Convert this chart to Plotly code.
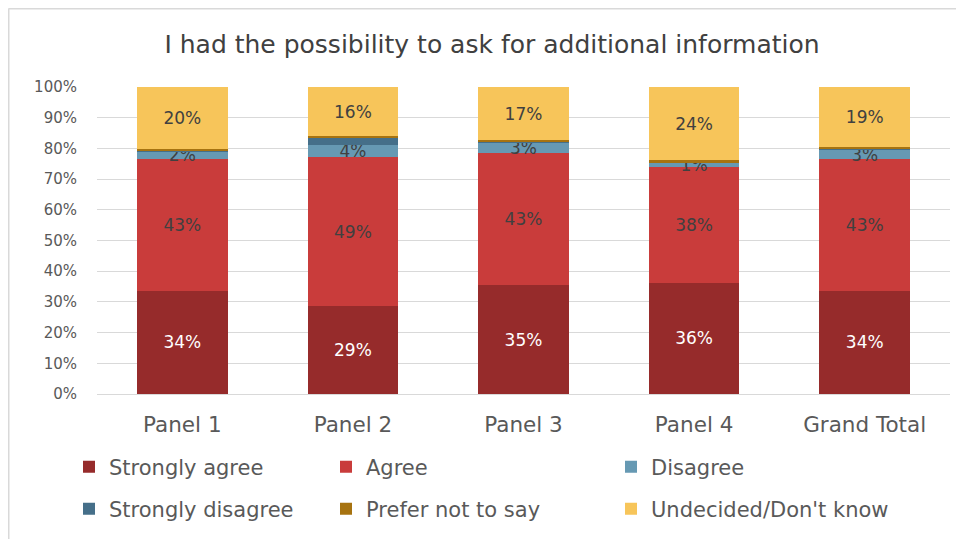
import plotly.graph_objects as go

categories = ["Panel 1", "Panel 2", "Panel 3", "Panel 4", "Grand Total"]
strongly_agree = [33.6, 28.6, 35.4, 36.2, 33.7]
agree = [43.0, 48.6, 43.2, 37.8, 42.8]
disagree = [2.3, 3.9, 3.2, 1.3, 3.0]
strongly_disagree = [0.3, 2.3, 0.6, 0.2, 0.6]
prefer_not = [0.5, 0.5, 0.2, 0.6, 0.5]
undecided = [20.3, 16.1, 17.4, 23.9, 19.4]

series_names = ["Strongly agree", "Agree", "Disagree",
                "Strongly disagree", "Prefer not to say", "Undecided/Don't know"]
series_values = [strongly_agree, agree, disagree,
                 strongly_disagree, prefer_not, undecided]
series_colors = ["#962B2B", "#C93C3B", "#6699B3", "#456F89", "#A77310", "#F7C55A"]
label_colors = ["white", "#404040", "#404040", "#404040", "#404040", "#404040"]
show_labels = [True, True, True, False, False, True]

FONT = "DejaVu Sans"
W, H = 956, 531
ML, MR, MT, MB = 89, 14, 79, 145
PW = W - ML - MR
PH = H - MT - MB
OFF = 8  # page offset of the figure

# legend grid: 3 columns x 2 rows (page pixel positions of item text start / row centre)
col_text_x = [110, 367, 652]
row_y = [467, 509]

fig = go.Figure()
layout_legends = {}
for i, (name, vals, color, tcolor, show) in enumerate(
        zip(series_names, series_values, series_colors, label_colors, show_labels)):
    lg = "legend" if i == 0 else f"legend{i + 1}"
    fig.add_trace(go.Bar(
        x=categories, y=vals, name=name, legend=lg,
        marker=dict(color=color, line=dict(width=0)),
        texttemplate="%{y:.0f}%" if show else "",
        textposition="inside", insidetextanchor="middle", textangle=0,
        constraintext="none",
        textfont=dict(family=FONT, size=17, color=tcolor),
        hoverinfo="skip",
    ))
    col, row = i % 3, i // 3
    layout_legends[lg] = dict(
        orientation="h", xanchor="left", yanchor="middle",
        xref="container", yref="container",
        x=(col_text_x[col] - 41 - OFF) / W,
        y=1 - (row_y[row] - OFF) / H,
        font=dict(family=FONT, size=21, color="#595959"),
        itemwidth=30, bgcolor="rgba(0,0,0,0)")

fig.update_layout(
    barmode="stack",
    bargap=0.47,
    width=W, height=H,
    margin=dict(l=ML, r=MR, t=MT, b=MB, autoexpand=False),
    paper_bgcolor="white", plot_bgcolor="white",
    font=dict(family=FONT, color="#595959"),
    title=dict(text="I had the possibility to ask for additional information",
               x=(492 - OFF) / W, xanchor="center", y=1 - 36 / H, yanchor="middle",
               font=dict(family=FONT, size=25, color="#404040")),
    uniformtext=dict(minsize=17, mode="show"),
    showlegend=True,
    **layout_legends,
)
fig.update_yaxes(range=[0, 100], dtick=10, ticksuffix="%", showgrid=True,
                 gridcolor="#D9D9D9", gridwidth=1, zeroline=False, automargin=False,
                 tickfont=dict(family=FONT, size=15, color="#595959"),
                 ticklabelstandoff=19, showline=False)
fig.update_xaxes(showgrid=False, showline=True, linecolor="#D9D9D9", automargin=False,
                 tickfont=dict(family=FONT, size=21.5, color="#595959"),
                 ticklabelstandoff=11)

# chart frame (top and left edges visible in the reference)
fx = (0.5 - ML) / PW
fy = (PH + MT - 0.5) / PH
fig.add_shape(type="line", xref="paper", yref="paper",
              x0=fx, x1=1.2, y0=fy, y1=fy,
              line=dict(color="#D9D9D9", width=2))
fig.add_shape(type="line", xref="paper", yref="paper",
              x0=fx, x1=fx, y0=fy, y1=-0.6,
              line=dict(color="#D9D9D9", width=2))

fig.write_html("out.html")
